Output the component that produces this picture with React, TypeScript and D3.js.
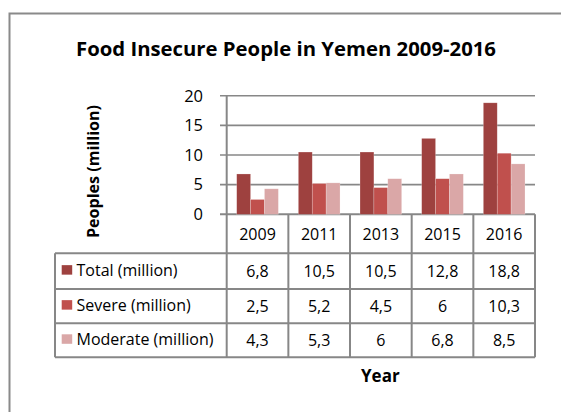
import React from "react";
import * as d3 from "d3";

const years = ["2009", "2011", "2013", "2015", "2016"];
const seriesNames = ["Total (million)", "Severe (million)", "Moderate (million)"];
const totalValues = [6.8, 10.5, 10.5, 12.8, 18.8];
const severeValues = [2.5, 5.2, 4.5, 6, 10.3];
const moderateValues = [4.3, 5.3, 6, 6.8, 8.5];
const yTicks = [0, 5, 10, 15, 20];
const colors = ["#9E413F", "#C0504D", "#DAA7A7"];

const W = 561;
const H = 412;
const FONT = "'Open Sans', 'Noto Sans', sans-serif";
const GRID = "#878787";

export default function App() {
  const series = [totalValues, severeValues, moderateValues];
  const plotL = 226.7;
  const plotR = 535;
  const y0 = 214.3;
  const yTop = 95.7;

  const x = d3.scaleBand<string>().domain(years).range([plotL, plotR]).paddingInner(0).paddingOuter(0);
  const xs = d3
    .scaleBand<string>()
    .domain(seriesNames)
    .range([0, x.bandwidth()])
    .paddingInner(0)
    .paddingOuter(0.72);
  const y = d3.scaleLinear().domain([0, 20]).range([y0, yTop]);

  const tableL = 55;
  const headerBottom = 253.3;
  const rowBounds = [253.3, 289, 323.3, 357.3];
  const fmt = (v: number) => String(v).replace(".", ",");

  return (
    <svg
      width={W}
      height={H}
      style={{ position: "absolute", left: 0, top: 0, background: "#fff" }}
      fontFamily={FONT}
    >
      <rect x={0} y={0} width={W} height={H} fill="#fff" />
      {/* outer chart border */}
      <rect x={9.5} y={13.5} width={700} height={600} fill="none" stroke="#8A8A8A" strokeWidth={2} />

      {/* title */}
      <text
        x={286}
        y={55.5}
        textAnchor="middle"
        fontWeight="bold"
        fontSize={19.5}
        textLength={420}
        lengthAdjust="spacingAndGlyphs"
        fill="#000"
      >
        Food Insecure People in Yemen 2009-2016
      </text>

      {/* gridlines and ticks */}
      {yTicks.map((t) => (
        <g key={t}>
          <line x1={220} x2={plotR} y1={y(t)} y2={y(t)} stroke={GRID} strokeWidth={t === 0 ? 2 : 1.6} />
          <text x={203} y={y(t) + 5.8} textAnchor="end" fontSize={16.5} fill="#000">
            {t}
          </text>
        </g>
      ))}

      {/* y axis line */}
      <line x1={plotL} x2={plotL} y1={yTop} y2={y0} stroke={GRID} strokeWidth={2} />

      {/* bars */}
      {years.map((yr, i) =>
        series.map((vals, s) => (
          <rect
            key={yr + s}
            x={(x(yr) as number) + (xs(seriesNames[s]) as number)}
            y={y(vals[i])}
            width={xs.bandwidth()}
            height={y0 - y(vals[i])}
            fill={colors[s]}
            stroke="#fff"
            strokeOpacity={0.35}
            strokeWidth={0.6}
          />
        ))
      )}

      {/* y axis title */}
      <text
        transform={`translate(99,171.5) rotate(-90)`}
        textAnchor="middle"
        fontWeight="bold"
        fontSize={16.5}
        textLength={133}
        lengthAdjust="spacingAndGlyphs"
        fill="#000"
      >
        Peoples (million)
      </text>

      {/* data table: horizontal lines */}
      {rowBounds.map((rb) => (
        <line key={rb} x1={tableL} x2={plotR} y1={rb} y2={rb} stroke={GRID} strokeWidth={2} />
      ))}
      {/* left border of label column */}
      <line x1={tableL} x2={tableL} y1={headerBottom} y2={rowBounds[3]} stroke={GRID} strokeWidth={2} />
      {/* category boundaries */}
      {[...years.map((yr) => x(yr) as number), plotR].map((vx, i) => (
        <line key={i} x1={vx} x2={vx} y1={y0} y2={rowBounds[3]} stroke={GRID} strokeWidth={2} />
      ))}
      {/* header years */}
      {years.map((yr) => (
        <text
          key={yr}
          x={(x(yr) as number) + x.bandwidth() / 2}
          y={(y0 + headerBottom) / 2 + 6}
          textAnchor="middle"
          fontSize={16}
          fill="#000"
        >
          {yr}
        </text>
      ))}
      {/* rows */}
      {series.map((vals, s) => {
        const top = rowBounds[s];
        const bot = rowBounds[s + 1];
        const mid = (top + bot) / 2;
        return (
          <g key={s}>
            <rect x={61.7} y={mid - 6} width={10.5} height={9.5} fill={colors[s]} />
            <text x={76.5} y={mid + 5} fontSize={16} fill="#000">
              {seriesNames[s]}
            </text>
            {vals.map((v, i) => (
              <text
                key={i}
                x={(x(years[i]) as number) + x.bandwidth() / 2}
                y={mid + 5.8}
                textAnchor="middle"
                fontSize={16}
                fill="#000"
              >
                {fmt(v)}
              </text>
            ))}
          </g>
        );
      })}

      {/* x axis title */}
      <text x={(plotL + plotR) / 2 - 0.5} y={381.5} textAnchor="middle" fontWeight="bold" fontSize={17} fill="#000">
        Year
      </text>
    </svg>
  );
}
